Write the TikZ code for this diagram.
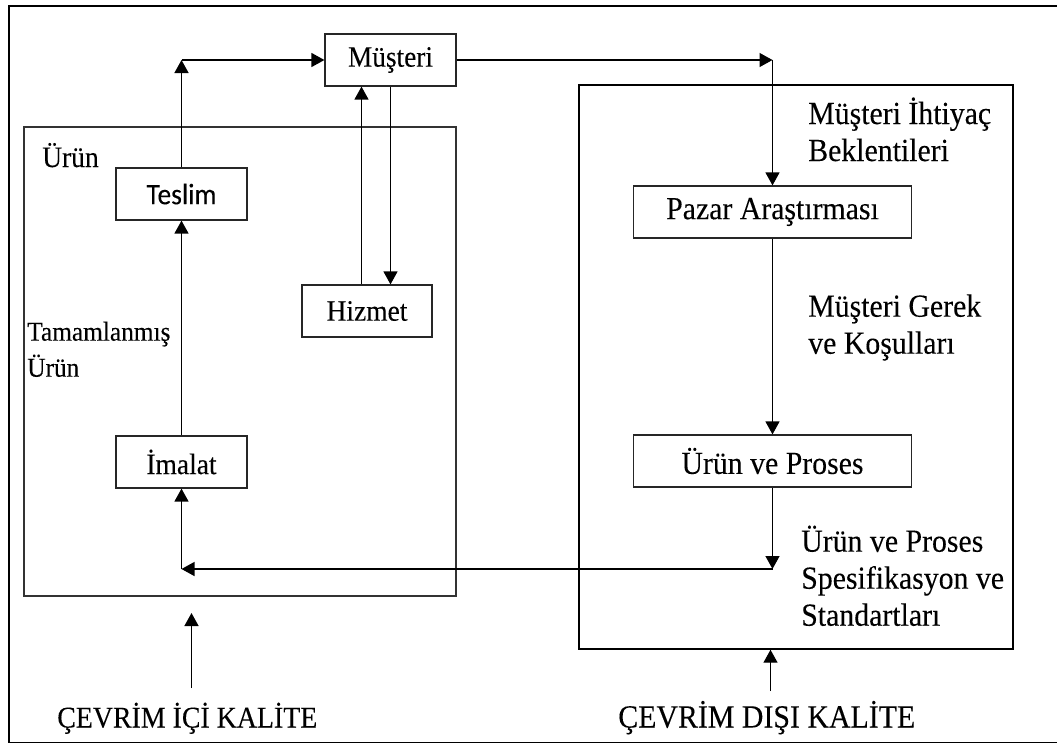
\documentclass[tikz,border=0pt]{standalone}
\usepackage{graphicx}
\usepackage{fontspec}
\setmainfont{Liberation Serif}[FakeBold=0.15]
\newfontfamily\boxsans{Carlito}[FakeBold=0.15]
\usetikzlibrary{arrows.meta}
% text in this figure is set slightly taller than wide
\newcommand\tall[1]{\scalebox{1}[1.08]{#1}}

\begin{document}
\begin{tikzpicture}[x=0.75pt,y=-0.75pt,
  box/.style={draw=black!85, line width=0.9pt, minimum width=98.25pt,
    minimum height=39pt, inner sep=0pt, fill=white},
  area/.style={draw, inner sep=0pt},
  arr/.style={-{Triangle[length=9.75pt,width=10.5pt]}, line width=1pt},
  lbl/.style={inner sep=0pt, anchor=base west},
  fl/.style={font=\fontsize{20.6}{25}\selectfont},
  fr/.style={font=\fontsize{22.35}{25.7}\selectfont},
]
\useasboundingbox (0,0) rectangle (1057,744);

% outer frame (open to the right)
\draw[line width=1.1pt] (1057,6) -| (9,742.7) -- (1057,742.7);

% the two regions
\node[area, draw=black!80, line width=0.9pt, minimum width=324pt,
  minimum height=351.75pt] (icbox) at (240,361.5) {};
\node[area, line width=1.1pt, minimum width=325.5pt,
  minimum height=423pt] (disbox) at (796,367) {};

% process boxes
\node[box, font=\fontsize{20.5}{25}\selectfont] (musteri) at (390.5,60) {\tall{Müşteri}};
\node[box, font=\boxsans\fontsize{20.6}{23}\selectfont] (teslim) at (181.5,194) {\tall{Teslim}};
\node[box, fl, minimum width=97.5pt] (hizmet) at (367,311) {\tall{Hizmet}};
\node[box, fl] (imalat) at (181.5,462) {\tall{İmalat}};
\node[box, fr, minimum width=208.5pt] (pazar) at (772.5,212) {\tall{Pazar Araştırması}};
\node[box, fr, minimum width=208.5pt] (urunproses) at (772.5,461) {\tall{Ürün ve Proses}};

% bends and free ends
\coordinate (c1) at (teslim.north |- musteri.west);
\coordinate (c2) at (pazar.north |- musteri.east);
\coordinate (c3) at (772.5,569);
\coordinate (c4) at (181.5,569);
\coordinate (c5) at (191.5,688);
\coordinate (c6) at (191.5,613);
\coordinate (c7) at (770.5,691);

% connectors
\draw[arr] (teslim.north) -- (c1);
\draw[arr] (c1) -- (musteri.west);
\draw[arr] (imalat.north) -- (teslim.south);
\draw[arr] ([xshift=-4.125pt]hizmet.north) -- ([xshift=-4.125pt]hizmet.north |- musteri.south);
\draw[arr] (musteri.south) -- (musteri.south |- hizmet.north);
\draw[arr] (musteri.east) -- (c2);
\draw[arr] (c2) -- (pazar.north);
\draw[arr] (pazar.south) -- (urunproses.north);
\draw[arr] (urunproses.south) -- (c3);
\draw[arr] (c3) -- (c4);
\draw[arr] (c4) -- (imalat.south);
\draw[arr, line width=1.1pt] (c5) -- (c6);
\draw[arr, line width=1.1pt] (c7) -- (c7 |- disbox.south);

% labels
\node[lbl, fl] (urunlbl) at (42,167) {\tall{Ürün}};
\node[lbl, font=\fontsize{19}{25}\selectfont] (tamam) at (27,340.7)
  {\tall{\begin{tabular}[t]{@{}l@{}}Tamamlanmış\\Ürün\end{tabular}}};
\node[lbl, fr] (ihtiyac) at (808,124)
  {\tall{\begin{tabular}[t]{@{}l@{}}Müşteri İhtiyaç\\Beklentileri\end{tabular}}};
\node[lbl, fr] (gerek) at (808,316.7)
  {\tall{\begin{tabular}[t]{@{}l@{}}Müşteri Gerek\\ve Koşulları\end{tabular}}};
\node[lbl, fr] (spes) at (801,551.7)
  {\tall{\begin{tabular}[t]{@{}l@{}}Ürün ve Proses\\Spesifikasyon ve\\Standartları\end{tabular}}};
\node[lbl, font=\fontsize{20.9}{25}\selectfont] (ici) at (57,727.5) {\tall{ÇEVRİM İÇİ KALİTE}};
\node[lbl, font=\fontsize{22.4}{28}\selectfont] (disi) at (618,727.5) {\tall{ÇEVRİM DIŞI KALİTE}};
\end{tikzpicture}
\end{document}
